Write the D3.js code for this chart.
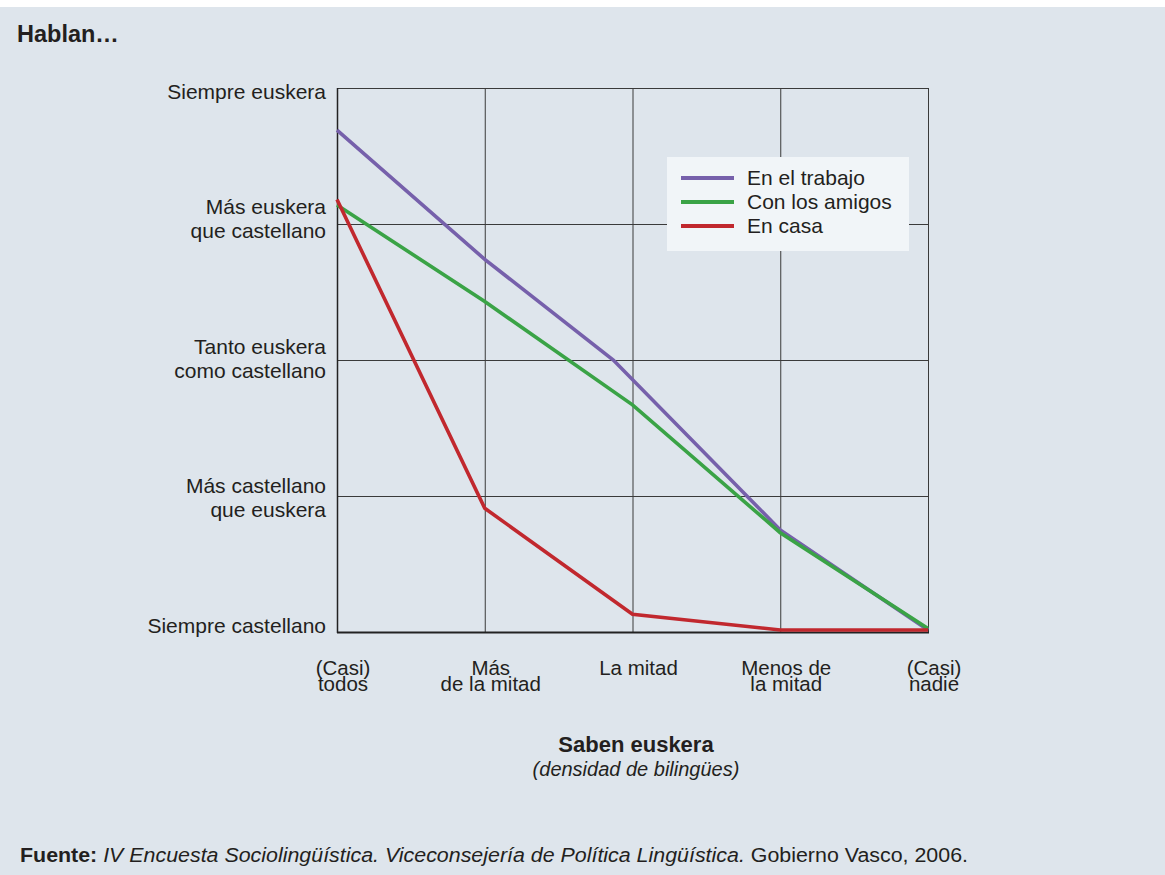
<!DOCTYPE html>
<meta charset="utf-8">
<title>Hablan… / Saben euskera</title>

<style>
	body {
		margin: 0;
		background-color: #fff;
		font-family: 'Liberation Sans', Arial, sans-serif;
	}

	svg text {
		fill: #231f20;
	}

	.grid line {
		stroke: #3a3a3a;
		stroke-width: 1;
	}

	.serie {
		fill: none;
		stroke-width: 3.6;
		stroke-linejoin: miter;
	}
</style>

<body>
	<div id="chart"></div>

	<script src="https://cdn.jsdelivr.net/npm/d3@7"></script>
	<script>
		// -----DONNÉES-----
		// catégories de l'axe horizontal (densité de bilingües), une ligne par élément
		var densites = [
			["(Casi)", "todos"],
			["Más", "de la mitad"],
			["La mitad"],
			["Menos de", "la mitad"],
			["(Casi)", "nadie"]
		];

		// niveaux de l'axe vertical, du bas vers le haut
		var niveaux = [
			["Siempre castellano"],
			["Más castellano", "que euskera"],
			["Tanto euskera", "como castellano"],
			["Más euskera", "que castellano"],
			["Siempre euskera"]
		];

		var series = ["En el trabajo", "Con los amigos", "En casa"];

		// position sur l'axe des densités (0 = (casi) todos ... 4 = (casi) nadie)
		var trabajoX = [0, 1, 1.87, 3, 4];
		var trabajoY = [3.69, 2.74, 2.0, 0.75, 0.015];

		var amigosX = [0, 1, 2, 3, 4];
		var amigosY = [3.14, 2.43, 1.67, 0.73, 0.025];

		var casaX = [0, 1, 2, 3, 4];
		var casaY = [3.18, 0.91, 0.13, 0.015, 0.015];

		var couleurs = ["#7660ab", "#3aa346", "#c1282e"];

		// -----MISE EN PAGE-----
		var width = 1165,
			height = 875;

		var x = d3.scaleLinear()
			.domain([0, densites.length - 1])
			.range([337, 928]);

		var y = d3.scaleLinear()
			.domain([0, niveaux.length - 1])
			.range([632, 88]);

		// petits décalages verticaux des étiquettes de gauche (placées à la main dans l'original)
		var decalageNiveau = [-6, 2, -1, -5, 4];

		var svg = d3.select("#chart").append("svg")
			.attr("width", width)
			.attr("height", height);

		// fond
		svg.append("rect")
			.attr("x", 0)
			.attr("y", 7)
			.attr("width", width)
			.attr("height", height - 7)
			.attr("fill", "#dee5ec");

		// titre
		svg.append("text")
			.attr("x", 17)
			.attr("y", 42)
			.style("font-size", "23.5px")
			.style("font-weight", "bold")
			.text("Hablan…");

		// -----GRILLE-----
		var grid = svg.append("g").attr("class", "grid");

		grid.selectAll(".v")
			.data(d3.range(densites.length))
			.enter().append("line")
			.attr("class", "v")
			.attr("x1", function (d) { return x(d) + 0.5; })
			.attr("x2", function (d) { return x(d) + 0.5; })
			.attr("y1", y(4))
			.attr("y2", y(0));

		grid.selectAll(".h")
			.data(d3.range(niveaux.length))
			.enter().append("line")
			.attr("class", "h")
			.attr("x1", x(0))
			.attr("x2", x(4) + 1)
			.attr("y1", function (d) { return y(d) + 0.5; })
			.attr("y2", function (d) { return y(d) + 0.5; });

		// axe gauche et axe du bas un peu plus marqués
		svg.append("line")
			.attr("x1", x(0) + 0.5).attr("x2", x(0) + 0.5)
			.attr("y1", y(4)).attr("y2", y(0) + 1)
			.attr("stroke", "#222").attr("stroke-width", 1.5);

		svg.append("line")
			.attr("x1", x(0)).attr("x2", x(4) + 1)
			.attr("y1", y(0) + 0.5).attr("y2", y(0) + 0.5)
			.attr("stroke", "#222").attr("stroke-width", 2);

		// -----ÉTIQUETTES DE GAUCHE-----
		var labelsY = svg.append("g")
			.selectAll("text")
			.data(niveaux)
			.enter().append("text")
			.attr("text-anchor", "end")
			.style("font-size", "21px")
			.attr("transform", function (d, i) {
				var premiere = y(i) + 7 - (d.length - 1) * 12 + decalageNiveau[i];
				return "translate(326," + premiere + ")";
			});

		labelsY.selectAll("tspan")
			.data(function (d) { return d; })
			.enter().append("tspan")
			.attr("x", 0)
			.attr("dy", function (d, i) { return i === 0 ? 0 : 24; })
			.text(function (d) { return d; });

		// -----ÉTIQUETTES DU BAS-----
		// une ligne de texte par étiquette, interligne serré comme dans l'original
		var labelsX = svg.append("g");

		densites.forEach(function (lignes, i) {
			labelsX.selectAll(".l" + i)
				.data(lignes)
				.enter().append("text")
				.attr("class", "l" + i)
				.attr("text-anchor", "middle")
				.style("font-size", "20.5px")
				.attr("x", x(i) + 6)
				.attr("y", function (d, j) { return 675 + j * 16; })
				.text(function (d) { return d; });
		});

		// titre de l'axe du bas
		svg.append("text")
			.attr("x", 636)
			.attr("y", 752)
			.attr("text-anchor", "middle")
			.style("font-size", "22px")
			.style("font-weight", "bold")
			.text("Saben euskera");

		svg.append("text")
			.attr("x", 636)
			.attr("y", 776)
			.attr("text-anchor", "middle")
			.style("font-size", "20px")
			.style("font-style", "italic")
			.text("(densidad de bilingües)");

		// -----COURBES-----
		var donnees = [
			d3.zip(trabajoX, trabajoY),
			d3.zip(amigosX, amigosY),
			d3.zip(casaX, casaY)
		];

		var ligne = d3.line()
			.x(function (d) { return x(d[0]); })
			.y(function (d) { return y(d[1]); });

		svg.append("g")
			.selectAll("path")
			.data(donnees)
			.enter().append("path")
			.attr("class", "serie")
			.attr("stroke", function (d, i) { return couleurs[i]; })
			.attr("d", ligne);

		// -----LÉGENDE-----
		var legende = svg.append("g")
			.attr("transform", "translate(667,157)");

		legende.append("rect")
			.attr("width", 242)
			.attr("height", 94)
			.attr("fill", "#f1f5f8");

		var items = legende.selectAll(".item")
			.data(series)
			.enter().append("g")
			.attr("class", "item")
			.attr("transform", function (d, i) {
				return "translate(0," + (28 + i * 24) + ")";
			});

		items.append("line")
			.attr("x1", 14)
			.attr("x2", 67)
			.attr("y1", -7)
			.attr("y2", -7)
			.attr("stroke-width", 4)
			.attr("stroke", function (d, i) { return couleurs[i]; });

		items.append("text")
			.attr("x", 80)
			.style("font-size", "21px")
			.text(function (d) { return d; });

		// -----SOURCE-----
		var source = svg.append("text")
			.attr("x", 20)
			.attr("y", 862)
			.style("font-size", "20px")
			.attr("textLength", 948)
			.attr("lengthAdjust", "spacingAndGlyphs");

		source.append("tspan")
			.style("font-weight", "bold")
			.text("Fuente: ");
		source.append("tspan")
			.style("font-style", "italic")
			.text("IV Encuesta Sociolingüística. Viceconsejería de Política Lingüística.");
		source.append("tspan")
			.text(" Gobierno Vasco, 2006.");
	</script>
</body>
